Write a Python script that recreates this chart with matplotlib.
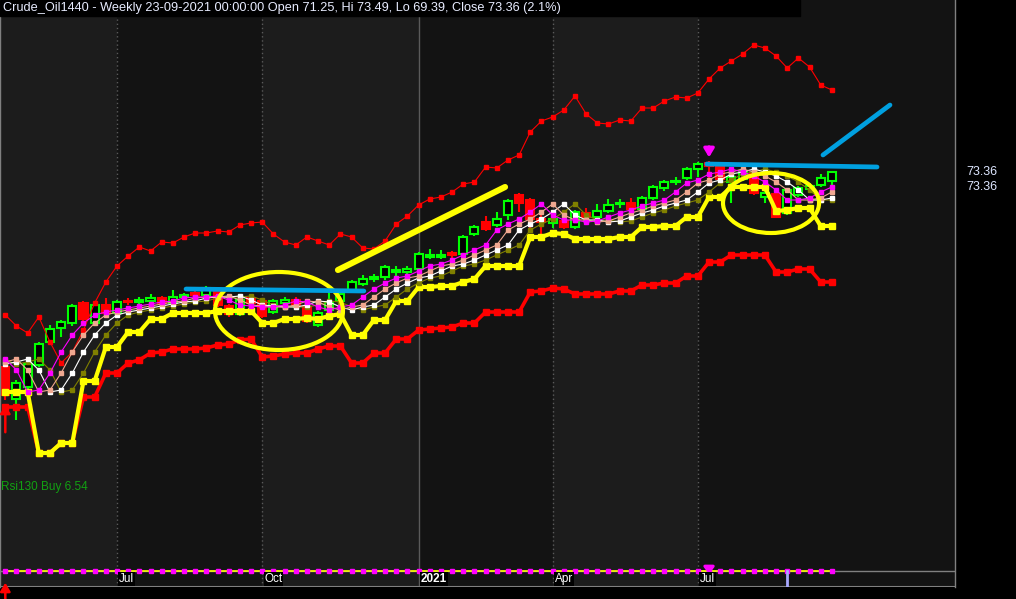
import numpy as np
import pandas as pd
import matplotlib
matplotlib.use('Agg')
import matplotlib.pyplot as plt
from matplotlib.patches import Ellipse, Rectangle

# Weekly bars of Crude_Oil1440, first bar dated 23-04-2020
dates = pd.date_range('2020-04-23', periods=75, freq='7D')

opens = [24.65, 16.65, 19.65, 25.15, 30.9, 34.4, 35.65, 40.65, 35.65, 40.15,
         38.15, 41.15, 40.9, 41.15, 41.9, 40.65, 42.15, 43.15, 42.65, 43.4,
         39.9, 37.9, 41.9, 41.15, 38.4, 40.65, 41.4, 39.65, 35.15, 38.9,
         41.15, 43.9, 45.4, 46.65, 47.15, 48.4, 48.4, 49.15, 52.15, 52.15,
         53.15, 52.9, 57.9, 60.9, 60.15, 62.65, 67.65, 66.4, 61.65, 60.65,
         61.15, 59.65, 63.15, 62.15, 63.65, 65.4, 65.65, 64.15, 66.9, 69.4,
         70.9, 71.9, 74.15, 75.65, 74.65, 70.9, 71.65, 73.15, 67.15, 67.9,
         63.15, 67.65, 69.15, 70.15, 71.25]
highs = [26.4, 21.4, 27.15, 30.9, 35.15, 36.4, 40.4, 41.15, 40.65, 41.9,
         41.4, 41.9, 42.15, 42.9, 42.4, 43.9, 43.15, 43.65, 44.9, 43.9,
         40.4, 42.65, 42.4, 41.65, 41.65, 42.15, 42.15, 40.15, 38.65, 43.9,
         43.4, 46.4, 47.65, 47.9, 50.15, 49.9, 49.9, 53.4, 54.15, 53.9,
         53.65, 57.65, 60.15, 62.4, 63.4, 66.65, 68.15, 66.9, 63.15, 62.4,
         61.65, 63.9, 64.4, 65.4, 66.65, 66.65, 66.9, 67.4, 70.15, 71.4,
         72.15, 74.65, 75.9, 76.15, 75.15, 72.65, 74.15, 73.65, 68.9, 68.4,
         69.4, 69.9, 70.65, 72.9, 73.49]
lows = [16.4, 11.4, 19.15, 24.65, 30.4, 32.15, 34.9, 35.65, 35.15, 37.65,
        37.65, 40.15, 40.15, 40.65, 39.65, 40.15, 41.65, 42.15, 42.15, 39.65,
        37.15, 37.4, 39.4, 36.9, 37.9, 40.15, 39.4, 35.65, 34.65, 38.4,
        40.65, 43.4, 44.9, 45.9, 46.4, 47.15, 47.9, 48.65, 51.65, 51.65,
        51.9, 52.4, 57.4, 58.65, 59.65, 61.4, 63.4, 58.4, 57.65, 59.4,
        59.15, 59.15, 60.9, 61.65, 63.15, 64.4, 62.15, 63.65, 66.4, 68.65,
        70.15, 71.4, 72.15, 71.4, 70.65, 65.65, 71.15, 67.65, 65.65, 61.9,
        62.65, 67.15, 68.65, 69.65, 69.39]
closes = [17.65, 20.65, 25.4, 30.4, 34.15, 35.9, 39.9, 36.65, 40.15, 38.15,
          40.9, 40.9, 41.4, 41.9, 40.65, 42.15, 42.65, 42.65, 44.4, 40.15,
          37.9, 41.4, 40.65, 37.4, 41.15, 41.4, 40.15, 36.15, 38.15, 40.9,
          42.9, 45.9, 46.65, 47.15, 49.65, 48.9, 49.15, 52.9, 52.65, 52.65,
          52.65, 57.15, 59.65, 59.15, 61.65, 66.15, 65.65, 61.65, 60.9, 61.65,
          59.65, 63.4, 62.15, 63.65, 65.15, 65.65, 64.15, 66.9, 69.65, 70.9,
          71.15, 74.15, 75.4, 74.9, 71.65, 72.15, 73.65, 68.15, 68.15, 62.15,
          68.9, 69.4, 69.9, 71.9, 73.36]

# upper band (thin red), lower band (thick red), trailing stop (thick yellow)
upper_band = [37.65, 34.9, 33.15, 37.15, 30.9, 25.65, 28.4, 33.9, 40.65, 45.9,
              49.9, 52.4, 54.65, 53.65, 55.9, 55.65, 57.15, 58.15, 58.15, 58.65,
              58.4, 60.15, 60.65, 60.9, 57.9, 55.9, 55.15, 57.15, 56.15, 55.15,
              57.9, 57.15, 54.4, 54.15, 56.15, 60.4, 62.4, 65.15, 66.65, 67.15,
              68.4, 70.4, 70.9, 74.65, 74.4, 76.4, 77.65, 83.4, 86.15, 87.15,
              88.9, 92.4, 87.9, 85.65, 85.4, 86.4, 86.15, 89.4, 89.4, 91.15,
              92.15, 91.9, 93.15, 96.65, 99.4, 101.15, 102.9, 105.15, 104.4, 102.4,
              99.4, 101.9, 99.65, 95.15, 93.9]
lower_band = [14.65, 14.65, 14.65, 3.15, 3.15, 5.65, 5.65, 17.15, 17.15, 23.15,
              23.15, 25.65, 26.4, 28.15, 28.4, 29.15, 29.15, 29.15, 29.4, 30.15,
              30.4, 31.4, 31.65, 27.15, 27.4, 27.9, 28.15, 28.15, 29.15, 29.9,
              29.9, 25.65, 25.65, 28.15, 28.15, 31.65, 31.65, 33.9, 34.15, 34.4,
              34.65, 35.65, 35.65, 38.4, 38.4, 38.4, 38.4, 43.4, 43.65, 44.4,
              44.15, 42.9, 42.9, 42.9, 42.9, 43.65, 43.65, 45.15, 45.15, 45.65,
              45.65, 47.4, 47.4, 50.9, 50.9, 52.65, 52.65, 52.65, 52.65, 48.4,
              48.4, 49.15, 49.15, 45.9, 45.9]
trail_stop = [18.4, 18.4, 18.4, 3.15, 3.15, 5.65, 5.65, 21.15, 21.15, 29.65,
              29.65, 33.4, 33.4, 36.65, 36.65, 38.15, 38.15, 38.15, 38.15, 38.65,
              38.65, 38.65, 38.65, 35.65, 35.65, 36.65, 36.65, 36.9, 36.65, 37.4,
              37.9, 32.65, 32.65, 36.4, 36.4, 41.15, 41.15, 44.65, 44.65, 44.9,
              44.9, 45.9, 46.65, 49.9, 49.9, 49.9, 49.9, 57.15, 57.15, 58.15,
              57.9, 56.65, 56.65, 56.65, 56.65, 57.15, 57.15, 59.65, 59.65, 59.9,
              59.9, 62.15, 62.15, 67.15, 67.15, 69.65, 69.65, 69.65, 69.65, 63.65,
              63.9, 64.4, 64.4, 59.9, 59.9]
# moving average; 3 extra values before the first bar feed the displaced copies
ma = [26.4, 25.4, 25.9,
      26.65, 23.9, 18.4, 18.9, 23.15, 28.4, 32.65, 35.65, 37.65, 38.4,
      38.9, 39.4, 39.9, 40.4, 40.9, 41.15, 41.9, 42.15, 42.15, 42.4,
      41.4, 40.15, 39.9, 39.65, 39.65, 40.15, 41.15, 40.9, 39.65, 38.9,
      39.65, 40.15, 42.15, 44.15, 45.65, 46.9, 47.4, 48.65, 49.9, 50.4,
      51.4, 52.65, 53.9, 55.15, 58.9, 60.4, 61.65, 63.4, 65.4, 62.65,
      61.4, 61.4, 60.9, 61.15, 62.15, 63.15, 63.9, 64.9, 65.65, 66.4,
      68.4, 70.65, 71.4, 72.9, 73.4, 74.15, 73.4, 72.4, 70.9, 68.9,
      66.4, 66.4, 66.9, 68.4, 69.65]

buy_bars = [0]
sell_bars = [63]
cursor_bar = 70

# hand drawn marks: ellipses (bar, price, width in bars, height in price)
ellipses = [(24.5, 38.65, 11.46, 19.5), (68.55, 65.65, 8.6, 15.0)]
yellow_trend = ([29.78, 44.74], [48.9, 69.65])
blue_lines = [([16.18, 32.1], [44.15, 43.65]),
              ([62.8, 78.04], [75.4, 74.65]),
              ([73.2, 79.2], [77.65, 90.15])]

title = ('Crude_Oil1440 - Weekly 23-09-2021 00:00:00 Open 71.25, Hi 73.49, '
         'Lo 69.39, Close 73.36 (2.1%)')


def main():
    n = len(closes)
    x = np.arange(n)
    o = np.array(opens)
    c = np.array(closes)
    m = np.array(ma)

    fig = plt.figure(figsize=(10.16, 5.99), dpi=100, facecolor='black')
    ax = fig.add_axes([0, 12 / 599, 955 / 1016, 587 / 599])
    ax.set_xlim(-0.4745, 85.02)
    ax.set_ylim(-30.35, 116.4)
    ax.set_facecolor('#131313')
    ax.set_xticks([])
    ax.set_yticks([])
    for side in ['top', 'bottom']:
        ax.spines[side].set_visible(False)
    for side in ['left', 'right']:
        ax.spines[side].set_color('#808080')
        ax.spines[side].set_linewidth(1)

    # quarter dividers and alternating shading
    starts = [i for i in range(1, n)
              if dates[i].month != dates[i - 1].month and dates[i].month in (1, 4, 7, 10)]
    edges = [-0.4745] + starts + [85.02]
    for k in range(len(edges) - 1):
        col = '#1c1c1c' if k % 2 == 0 else '#131313'
        ax.axvspan(edges[k], edges[k + 1], color=col, zorder=0, lw=0)
    xt = ax.get_xaxis_transform()
    for i in starts:
        if dates[i].month == 1:
            ax.axvline(i, color='#5a5a5a', lw=1, zorder=0.5)
            lab = str(dates[i].year)
            fw = 'bold'
        else:
            ax.axvline(i, color='#5a5a5a', lw=1, ls=(0, (1, 2)), zorder=0.5)
            lab = dates[i].strftime('%b')
            fw = 'normal'
        ax.text(i + 0.2, 0.0136, lab, transform=xt, color='white', fontsize=8.5,
                fontweight=fw, family='Liberation Sans', va='center', ha='left',
                bbox=dict(facecolor='black', edgecolor='none', pad=0.6), zorder=6)

    # axis strip lines
    ax.axhline(-26.35, color='#808080', lw=1, zorder=1)
    ax.axhline(-30.35, color='#808080', lw=1.5, zorder=1)

    # candles
    up = c >= o
    cols = np.where(up, '#00ff00', '#ff0000')
    ax.vlines(x, lows, highs, colors=cols, lw=1.5, zorder=2)
    bottoms = np.minimum(o, c)
    heights = np.maximum(np.abs(c - o), 0.15)
    faces = np.where(up, 'black', '#ff0000')
    ax.bar(x, heights, bottom=bottoms, width=0.72, color=faces, edgecolor=cols,
           linewidth=1.5, zorder=2.1)

    # bands
    ax.plot(x, upper_band, color='#ff0000', lw=0.8, marker='s', ms=2.8, zorder=3)
    ax.plot(x, lower_band, color='#ff0000', lw=2.6, marker='s', ms=4.6, zorder=3.2)
    ax.plot(x, trail_stop, color='#ffff00', lw=3.0, marker='s', ms=5.0, zorder=3.3)

    # displaced moving averages
    ax.plot(x, m[:-3], color='#808000', lw=0.8, marker='s', ms=3.4, zorder=3.4)
    ax.plot(x, m[1:-2], color='#ffffff', lw=0.8, marker='s', ms=3.0, zorder=3.5)
    ax.plot(x, m[2:-1], color='#f0a890', lw=0.8, marker='s', ms=3.4, zorder=3.6)
    ax.plot(x, m[3:], color='#ff00ff', lw=0.8, marker='s', ms=3.0, zorder=3.7)

    # signal arrows
    for i in buy_bars:
        ax.annotate('', xy=(i, lows[i] - 0.5), xytext=(i, lows[i] - 8.75),
                    arrowprops=dict(arrowstyle='-|>,head_width=0.3,head_length=0.5',
                                    color='#ff0000', lw=1.8), zorder=5)
        ax.annotate('', xy=(i, 0.012), xytext=(i, -0.03), xycoords=xt,
                    arrowprops=dict(arrowstyle='-|>,head_width=0.3,head_length=0.5',
                                    color='#ff0000', lw=1.8), annotation_clip=False, zorder=5)
    for i in sell_bars:
        ax.annotate('', xy=(i, highs[i] + 0.2), xytext=(i, highs[i] + 4.2),
                    arrowprops=dict(arrowstyle='-|>,head_width=0.3,head_length=0.5',
                                    color='#ff00ff', lw=2.4), zorder=5)
        ax.annotate('', xy=(i, 0.017), xytext=(i, 0.036), xycoords=xt,
                    arrowprops=dict(arrowstyle='-|>,head_width=0.3,head_length=0.4',
                                    color='#ff00ff', lw=2.2), zorder=5)

    # bottom ribbon
    ax.plot(x, np.full(n, 0.0281), transform=xt, color='#ffff00', lw=1.2,
            marker='s', ms=2.8, mfc='#ff00ff', mec='#ff00ff', zorder=4)
    ax.plot([cursor_bar, cursor_bar], [0, 0.027], transform=xt, color='#a8a8ff',
            lw=2, zorder=4)

    # hand drawn annotations
    for cx, cy, w, h in ellipses:
        ax.add_patch(Ellipse((cx, cy), w, h, fill=False, edgecolor='#ffff00',
                             lw=3.0, zorder=6))
    ax.plot(*yellow_trend, color='#ffff00', lw=4.4, solid_capstyle='round', zorder=6)
    for bx, by in blue_lines:
        ax.plot(bx, by, color='#00a0e0', lw=3.4, solid_capstyle='round', zorder=6)

    ax.text(0.001, 0.1704, 'Rsi130 Buy 6.54', transform=ax.transAxes, color='#12a012',
            fontsize=8.5, family=['Liberation Sans Narrow', 'Liberation Sans'],
            va='center', ha='left', zorder=6)

    # price labels on the right
    ax.annotate('73.36', xy=(1, closes[-1]), xycoords=('axes fraction', 'data'),
                xytext=(8, 0), textcoords='offset points', color='#dde6ff',
                fontsize=9, family='Liberation Sans', va='center', ha='left',
                annotation_clip=False)
    ax.annotate('73.36', xy=(1, closes[-1]), xycoords=('axes fraction', 'data'),
                xytext=(8, -10.8), textcoords='offset points', color='#dde6ff',
                fontsize=9, family='Liberation Sans', va='center', ha='left',
                annotation_clip=False)

    # title bar
    fig.patches.append(Rectangle((0, 1 - 16 / 599), 800 / 1016, 16 / 599,
                                 transform=fig.transFigure, color='black', zorder=2))
    fig.text(3 / 1016, 1 - 8 / 599, title, color='#e8ecff', fontsize=9.2,
             family='Liberation Sans', va='center', ha='left', zorder=3)

    fig.savefig('out.png', dpi=100, facecolor='black')


if __name__ == '__main__':
    main()
